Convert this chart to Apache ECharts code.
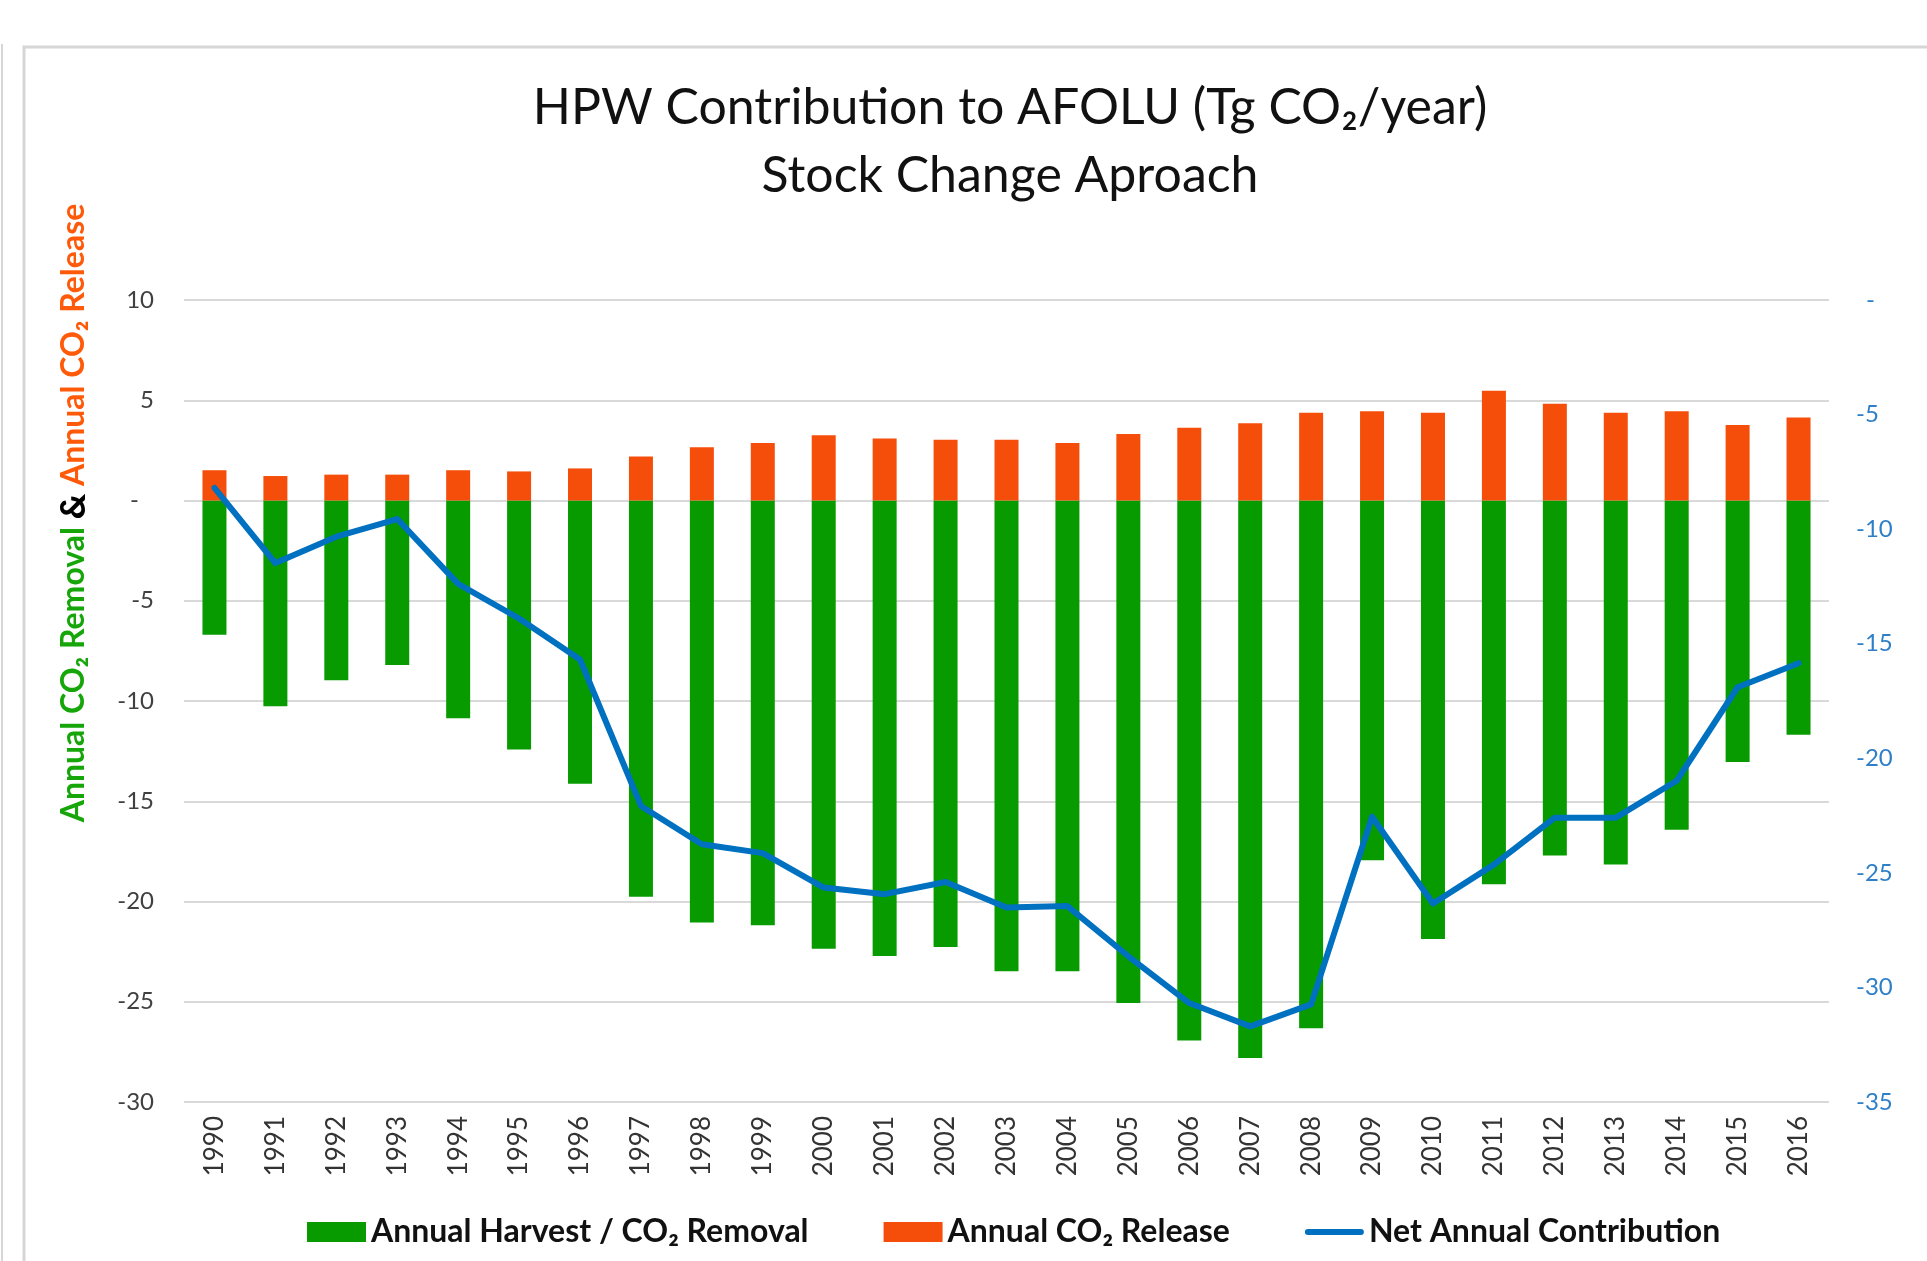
<!DOCTYPE html>
<html>
<head>
<meta charset="utf-8">
<script src="https://cdn.jsdelivr.net/npm/echarts@6/dist/echarts.min.js"></script>
<style>
html,body{margin:0;padding:0;background:#fff;}
#chart{width:1927px;height:1261px;}
</style>
</head>
<body>
<div id="chart"></div>
<script>
const years = ['1990','1991','1992','1993','1994','1995','1996','1997','1998','1999','2000','2001','2002','2003','2004','2005','2006','2007','2008','2009','2010','2011','2012','2013','2014','2015','2016'];
const removal = [-6.70,-10.26,-8.97,-8.21,-10.86,-12.42,-14.13,-19.76,-21.05,-21.18,-22.36,-22.72,-22.27,-23.48,-23.48,-25.06,-26.93,-27.81,-26.32,-17.94,-21.87,-19.14,-17.71,-18.16,-16.42,-13.04,-11.68];
const release = [1.51,1.22,1.29,1.29,1.51,1.45,1.60,2.20,2.65,2.87,3.25,3.09,3.03,3.03,2.87,3.32,3.63,3.85,4.38,4.45,4.38,5.47,4.83,4.38,4.45,3.76,4.14];
const net = [-8.20,-11.48,-10.33,-9.56,-12.39,-13.90,-15.69,-22.08,-23.75,-24.14,-25.64,-25.93,-25.40,-26.51,-26.45,-28.64,-30.68,-31.70,-30.74,-22.55,-26.34,-24.64,-22.59,-22.59,-20.98,-16.90,-15.85];
const seriesNames = ['Annual Harvest / CO₂ Removal','Annual CO₂ Release','Net Annual Contribution'];

const FONT = 'Lato, "Open Sans", sans-serif';
const lineIcon = 'path://M0,0L0.01,0M3,7L56,7A3,3 0 0 1 56,13L3,13A3,3 0 0 1 3,7ZM59,20L58.99,20';
const chart = echarts.init(document.getElementById('chart'), null, {renderer:'canvas'});
chart.setOption({
  backgroundColor:'#ffffff',
  animation:false,
  title:{
    text:'HPW Contribution to AFOLU (Tg CO₂/year)\nStock Change Aproach',
    left:1005, top:69, textAlign:'center',
    textStyle:{fontFamily:FONT, fontSize:50, fontWeight:'normal', color:'#111', lineHeight:68}
  },
  graphic:[
    {type:'line', shape:{x1:2, y1:44, x2:2, y2:1261}, style:{stroke:'#d6d6d6', lineWidth:2}, silent:true},
    {type:'rect', shape:{x:24, y:47, width:1920, height:1230}, style:{fill:null, stroke:'#d6d6d6', lineWidth:3}, silent:true},
    {type:'text', x:74, y:513, rotation:Math.PI/2, silent:true,
     style:{
       text:'{g|Annual CO₂ Removal} {k|&} {o|Annual CO₂ Release}',
       align:'center', verticalAlign:'middle',
       font:'bold 32px '+FONT,
       rich:{
         g:{fill:'#16a60a', fontFamily:FONT, fontSize:32, fontWeight:'bold'},
         k:{fill:'#000', fontFamily:FONT, fontSize:35, fontWeight:'900'},
         o:{fill:'#ff5a0a', fontFamily:FONT, fontSize:32, fontWeight:'bold'}
       }
     }}
  ],
  legend:{
    left:302, top:1211,
    itemWidth:59, itemHeight:20, itemGap:75,
    textStyle:{fontFamily:FONT, fontSize:32, fontWeight:'bold', color:'#111'},
    data:[
      {name:seriesNames[0], icon:'rect'},
      {name:seriesNames[1], icon:'rect'},
      {name:seriesNames[2], icon:lineIcon}
    ]
  },
  grid:{left:184, right:98, top:300, bottom:159, containLabel:false},
  xAxis:{
    type:'category', data:years,
    axisLine:{show:false, onZero:false}, axisTick:{show:false},
    axisLabel:{rotate:90, margin:14, fontFamily:FONT, fontSize:26, color:'#333'}
  },
  yAxis:[
    {type:'value', min:-30, max:10, interval:5, position:'left',
     axisLine:{show:false}, axisTick:{show:false},
     splitLine:{show:true, lineStyle:{color:'#d9d9d9', width:2}},
     axisLabel:{margin:30, fontFamily:FONT, fontSize:24, color:'#404040',
       formatter:function(v){return v===0?'{z|-}':String(v);},
       rich:{z:{padding:[0,15,0,0], fontFamily:FONT, fontSize:24, color:'#404040'}}}
    },
    {type:'value', min:-35, max:0, interval:5, position:'right',
     axisLine:{show:false}, axisTick:{show:false}, splitLine:{show:false},
     axisLabel:{margin:27, fontFamily:FONT, fontSize:24, color:'#2f7fc8',
       formatter:function(v){return v===0?'{z|-}':String(v);},
       rich:{z:{padding:[0,0,0,10], fontFamily:FONT, fontSize:24, color:'#2f7fc8'}}}
    }
  ],
  series:[
    {name:seriesNames[0], type:'bar', stack:'s', data:removal, barWidth:24, itemStyle:{color:'#089b00'}},
    {name:seriesNames[1], type:'bar', stack:'s', data:release, barWidth:24, itemStyle:{color:'#f54e0a'}},
    {name:seriesNames[2], type:'line', yAxisIndex:1, data:net, symbol:'none', z:5,
     lineStyle:{color:'#0070c0', width:6, join:'round', cap:'round'}, itemStyle:{color:'#0070c0'}}
  ]
});
</script>
</body>
</html>
